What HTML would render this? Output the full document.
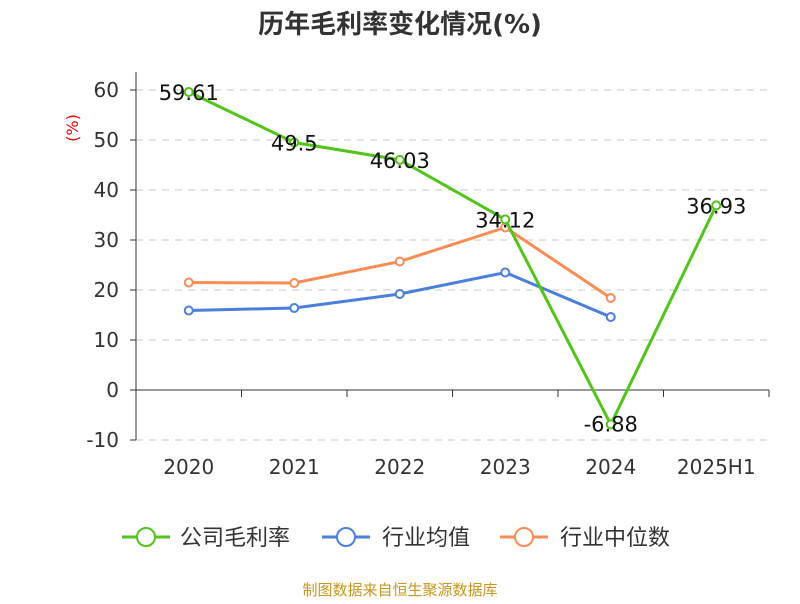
<!DOCTYPE html>
<html><head><meta charset="utf-8"><style>
body{margin:0;background:#fff;width:800px;height:600px;overflow:hidden;font-family:"DejaVu Sans","Noto Sans CJK SC",sans-serif}
</style></head><body>
<svg id="chart" width="800" height="600" font-family="DejaVu Sans, Noto Sans CJK SC, sans-serif">
<text x="400" y="33" text-anchor="middle" font-size="26" font-weight="bold" fill="#333">历年毛利率变化情况(%)</text>
<text x="78" y="128" text-anchor="middle" font-size="16" fill="#e00" transform="rotate(-90 78 128)">(%)</text>
<g id="grid"></g><g id="axes"></g><g id="series"></g>
<g>
<g><line x1="122" y1="537" x2="170" y2="537" stroke="#52c41a" stroke-width="3"/><circle cx="146" cy="537" r="9" fill="#fff" stroke="#52c41a" stroke-width="2"/><text x="180" y="545" font-size="22" fill="#333">公司毛利率</text></g>
<g><line x1="322" y1="537" x2="370" y2="537" stroke="#4a7fdc" stroke-width="3"/><circle cx="346" cy="537" r="9" fill="#fff" stroke="#4a7fdc" stroke-width="2"/><text x="382" y="545" font-size="22" fill="#333">行业均值</text></g>
<g><line x1="500" y1="537" x2="548" y2="537" stroke="#fa8c55" stroke-width="3"/><circle cx="524" cy="537" r="9" fill="#fff" stroke="#fa8c55" stroke-width="2"/><text x="560" y="545" font-size="22" fill="#333">行业中位数</text></g>
</g>
<text x="400" y="595" text-anchor="middle" font-size="15" fill="#c8961e">制图数据来自恒生聚源数据库</text>
</svg>
<script>
const categories=["2020","2021","2022","2023","2024","2025H1"];
const company=[59.61,49.5,46.03,34.12,-6.88,36.93];
const industryAvg=[15.9,16.4,19.2,23.5,14.6];
const industryMedian=[21.5,21.4,25.7,32.5,18.4];
const yTicks=[-10,0,10,20,30,40,50,60];
const NS="http://www.w3.org/2000/svg";
const x0=136,x1=769,bw=(x1-x0)/categories.length;
const xs=i=>x0+bw*(i+0.5);
const ys=v=>390-v*5;
function mk(t,a,p){const e=document.createElementNS(NS,t);for(const k in a)e.setAttribute(k,a[k]);p.appendChild(e);return e;}
const grid=document.getElementById('grid'),axes=document.getElementById('axes'),ser=document.getElementById('series');
yTicks.forEach(v=>{
 const l=mk('line',{x1:x0,x2:x1,y1:ys(v),y2:ys(v),stroke:'#c8c8c8','stroke-dasharray':'7,6'},grid);
 
 
 const t=mk('text',{x:119,y:ys(v)+7,'text-anchor':'end','font-size':20,fill:'#333'},axes);t.textContent=v;
 
 
 mk('line',{x1:x0-6,x2:x0,y1:ys(v),y2:ys(v),stroke:'#333'},axes);
});
const ya=mk('line',{x1:x0,x2:x0,y1:ys(60)-18,y2:ys(-10),stroke:'#333'},axes);


const xa=mk('line',{x1:x0,x2:x1,y1:ys(0),y2:ys(0),stroke:'#333'},axes);


for(let i=0;i<=categories.length;i++)mk('line',{x1:x0+bw*i,x2:x0+bw*i,y1:ys(0),y2:ys(0)+7,stroke:'#333'},axes);
categories.forEach((c,i)=>{const t=mk('text',{x:xs(i),y:474,'text-anchor':'middle','font-size':20,fill:'#333'},axes);t.textContent=c;
 
 });
function series(arr,color,name,labels){
 const g=mk('g',{},ser);
 
 
 mk('polyline',{points:arr.map((v,i)=>xs(i)+','+ys(v)).join(' '),fill:'none',stroke:color,'stroke-width':3},g);
 arr.forEach((v,i)=>{const c=mk('circle',{cx:xs(i),cy:ys(v),r:4,fill:'#fff',stroke:color,'stroke-width':2},g);
  
  
  if(labels){const t=mk('text',{x:xs(i),y:v<0?ys(v)+7:ys(v)+8,'text-anchor':'middle','font-size':21,fill:'#111'},g);t.textContent=v;
   
   }
 });
}
series(industryAvg,'#4a7fdc','industry-avg-line',false);
series(industryMedian,'#fa8c55','industry-median-line',false);
series(company,'#52c41a','company-margin-line',true);
</script>
</body></html>
